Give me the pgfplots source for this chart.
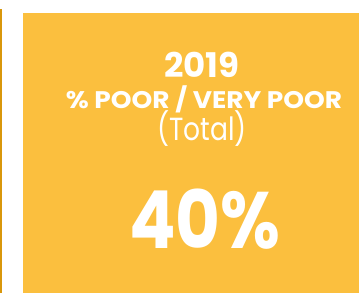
\documentclass[border=0pt]{standalone}
\usepackage{pgfplots}
\pgfplotsset{compat=1.18}
\usepackage{fontspec}
\setmainfont{Poppins}
\definecolor{cardyellow}{HTML}{FBBF3E}
\definecolor{lineyellow}{HTML}{D9970B}
\begin{document}
\begin{tikzpicture}
\begin{axis}[
  width=359pt, height=293pt, scale only axis,
  xmin=0, xmax=359, ymin=0, ymax=293, y dir=reverse,
  axis lines=none, clip=false,
]
\addplot[fill=white, draw=none] coordinates {(0,0) (359,0) (359,293) (0,293)} -- cycle;
\addplot[fill=lineyellow, draw=none] coordinates {(0,9) (2.2,9) (2.2,293) (0,293)} -- cycle;
\addplot[fill=cardyellow, draw=none] coordinates {(23,13) (359,13) (359,293) (23,293)} -- cycle;
\node[anchor=base, text=white, font=\fontsize{34}{36}\selectfont\bfseries, inner sep=0pt] at (axis cs:202,77) {2019};
\node[anchor=base, text=white, font=\fontsize{24}{26}\selectfont\bfseries, inner sep=0pt, xscale=1.1] at (axis cs:204,108) {\% POOR / VERY POOR};
\node[anchor=base, text=white, font=\fontsize{32}{36}\selectfont, inner sep=0pt, xscale=0.83] at (axis cs:202,140) {(Total)};
\node[anchor=base, text=white, font=\fontsize{80}{80}\selectfont\bfseries, inner sep=0pt, xscale=0.86] at (axis cs:205,248) {40\%};
\end{axis}
\end{tikzpicture}
\end{document}
